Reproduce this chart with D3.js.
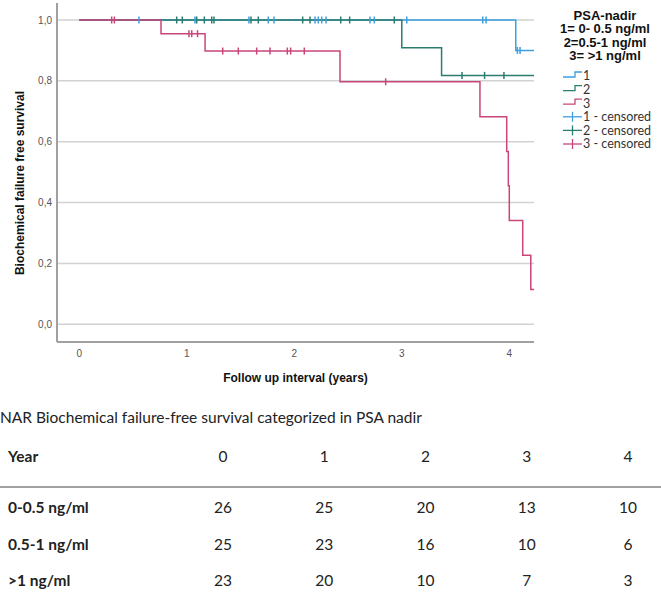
<!DOCTYPE html>
<html>
<head>
<meta charset="utf-8">
<script src="https://cdn.jsdelivr.net/npm/d3@7"></script>
<style>
  body { margin: 0; background: #fff; }
  svg { display: block; }
</style>
</head>
<body>
<div id="chart"></div>
<script>
// Kaplan-Meier steps per PSA-nadir group (time in years, survival)
const time1 = [0, 4.06];
const surv1 = [1.0, 0.90];
const cens1 = [0.555, 1.076, 1.578, 1.758, 1.811, 2.193, 2.223, 2.255, 2.295, 2.704, 2.744, 3.046, 3.753, 3.784, 4.075, 4.10];

const time2 = [0, 3.0, 3.37];
const surv2 = [1.0, 0.909, 0.818];
const cens2 = [0.906, 0.958, 1.092, 1.163, 1.232, 1.253, 1.597, 1.665, 2.078, 2.146, 2.432, 2.515, 2.93, 3.56, 3.77, 3.95];

const time3 = [0, 0.76, 1.17, 2.425, 3.727, 3.976, 3.991, 4.0, 4.125, 4.2];
const surv3 = [1.0, 0.955, 0.898, 0.797, 0.682, 0.568, 0.455, 0.341, 0.227, 0.114];
const cens3 = [0.301, 0.326, 1.02, 1.046, 1.10, 1.334, 1.479, 1.65, 1.774, 1.935, 1.966, 2.093, 2.85];

const followEnd = 4.23;
const yTicks = [0, 0.2, 0.4, 0.6, 0.8, 1.0];
const xTicks = [0, 1, 2, 3, 4];

const legendTitle = ["PSA-nadir", "1= 0- 0.5 ng/ml", "2=0.5-1 ng/ml", "3= >1 ng/ml"];
const legendLabels = ["1", "2", "3", "1 - censored", "2 - censored", "3 - censored"];

// number at risk table
const narCaption = "NAR Biochemical failure-free survival categorized in PSA nadir";
const narYears = [0, 1, 2, 3, 4];
const narGroups = ["0-0.5 ng/ml", "0.5-1 ng/ml", ">1 ng/ml"];
const nar1 = [26, 25, 20, 13, 10];
const nar2 = [25, 23, 16, 10, 6];
const nar3 = [23, 20, 10, 7, 3];

const colors = ["#3d9fe0", "#2b7d70", "#c9467b"];

const width = 661, height = 597;
const svg = d3.select("#chart").append("svg")
  .attr("width", width)
  .attr("height", height);

const x = d3.scaleLinear().domain([0, 4]).range([79.3, 509.3]);
const y = d3.scaleLinear().domain([0, 1]).range([324.3, 20]);
const axisLeftX = 57, axisBottomY = 342, plotRight = x(followEnd);

// grid lines
svg.append("g")
  .selectAll("line")
  .data(yTicks)
  .join("line")
  .attr("x1", axisLeftX).attr("x2", plotRight)
  .attr("y1", d => y(d)).attr("y2", d => y(d))
  .attr("stroke", "#d2d2d2")
  .attr("stroke-width", 1.5);

// axes lines
svg.append("line")
  .attr("x1", axisLeftX).attr("x2", axisLeftX)
  .attr("y1", 3).attr("y2", axisBottomY)
  .attr("stroke", "#a0a0a0").attr("stroke-width", 2);
svg.append("line")
  .attr("x1", axisLeftX).attr("x2", plotRight)
  .attr("y1", axisBottomY).attr("y2", axisBottomY)
  .attr("stroke", "#a0a0a0").attr("stroke-width", 2);

// tick labels
svg.append("g")
  .selectAll("text")
  .data(yTicks)
  .join("text")
  .attr("x", 52)
  .attr("y", d => y(d))
  .attr("dy", "0.35em")
  .attr("text-anchor", "end")
  .style("font", "10px 'Liberation Sans', Arial, sans-serif")
  .style("fill", "#555")
  .text(d => d3.format(".1f")(d).replace(".", ","));

svg.append("g")
  .selectAll("text")
  .data(xTicks)
  .join("text")
  .attr("x", d => x(d))
  .attr("y", 353)
  .attr("dy", "0.35em")
  .attr("text-anchor", "middle")
  .style("font", "10px 'Liberation Sans', Arial, sans-serif")
  .style("fill", "#555")
  .text(d => d);

// axis titles
svg.append("text")
  .attr("transform", `translate(24,183) rotate(-90)`)
  .attr("text-anchor", "middle")
  .style("font", "bold 12px 'Liberation Sans', Arial, sans-serif")
  .style("fill", "#111")
  .text("Biochemical failure free survival");

svg.append("text")
  .attr("x", (axisLeftX + plotRight) / 2)
  .attr("y", 378)
  .attr("dy", "0.35em")
  .attr("text-anchor", "middle")
  .style("font", "bold 12px 'Liberation Sans', Arial, sans-serif")
  .style("fill", "#111")
  .text("Follow up interval (years)");

// survival curves
const groups = [
  { time: time1, surv: surv1, cens: cens1 },
  { time: time2, surv: surv2, cens: cens2 },
  { time: time3, surv: surv3, cens: cens3 },
];

const survAt = (g, t) => {
  let s = g.surv[0];
  g.time.forEach((tt, i) => { if (tt <= t) s = g.surv[i]; });
  return s;
};

const line = d3.line().curve(d3.curveStepAfter).x(d => x(d[0])).y(d => y(d[1]));

groups.forEach((g, gi) => {
  const pts = g.time.map((t, i) => [t, g.surv[i]]);
  pts.push([followEnd, g.surv[g.surv.length - 1]]);
  svg.append("path")
    .datum(pts)
    .attr("d", line)
    .attr("fill", "none")
    .attr("stroke", colors[gi])
    .attr("stroke-width", 1.5);
});

// censor marks drawn after all curves
groups.forEach((g, gi) => {
  svg.append("g")
    .selectAll("line")
    .data(g.cens)
    .join("line")
    .attr("x1", d => x(d)).attr("x2", d => x(d))
    .attr("y1", d => y(survAt(g, d)) - 3.5)
    .attr("y2", d => y(survAt(g, d)) + 3.5)
    .attr("stroke", colors[gi])
    .attr("stroke-width", 1.5);
});

// legend
const legend = svg.append("g");
legendTitle.forEach((t, i) => {
  legend.append("text")
    .attr("x", 605)
    .attr("y", 15 + i * 13.6)
    .attr("dy", "0.35em")
    .attr("text-anchor", "middle")
    .style("font", "bold 13px 'Liberation Sans', Arial, sans-serif")
    .style("fill", "#111")
    .text(t);
});

legendLabels.forEach((lab, i) => {
  const cy = 76 + i * 13.6;
  const c = colors[i % 3];
  if (i < 3) {
    legend.append("path")
      .attr("d", `M563,${cy + 1}H575V${cy - 4}H582`)
      .attr("fill", "none")
      .attr("stroke", c)
      .attr("stroke-width", 1.3);
  } else {
    legend.append("line")
      .attr("x1", 563).attr("x2", 582).attr("y1", cy).attr("y2", cy)
      .attr("stroke", c).attr("stroke-width", 1.3);
    legend.append("line")
      .attr("x1", 572.5).attr("x2", 572.5).attr("y1", cy - 5).attr("y2", cy + 5)
      .attr("stroke", c).attr("stroke-width", 1.3);
  }
  legend.append("text")
    .attr("x", 583)
    .attr("y", cy)
    .attr("dy", "0.35em")
    .style("font", "12.5px Lato, 'Open Sans', sans-serif")
    .style("fill", "#333")
    .text(lab);
});

// number-at-risk table
const tableFont = "Lato, 'Open Sans', sans-serif";
const colX = d3.scalePoint().domain(narYears).range([223, 628]);

svg.append("text")
  .attr("x", 0)
  .attr("y", 418)
  .attr("dy", "0.35em")
  .style("font", `15.5px ${tableFont}`)
  .style("fill", "#222")
  .text(narCaption);

svg.append("text")
  .attr("x", 8).attr("y", 457).attr("dy", "0.35em")
  .style("font", `bold 15.5px ${tableFont}`)
  .style("fill", "#222")
  .text("Year");

svg.append("g")
  .selectAll("text")
  .data(narYears)
  .join("text")
  .attr("x", d => colX(d)).attr("y", 457).attr("dy", "0.35em")
  .attr("text-anchor", "middle")
  .style("font", `15.5px ${tableFont}`)
  .style("fill", "#222")
  .text(d => d);

svg.append("line")
  .attr("x1", 0).attr("x2", width)
  .attr("y1", 487).attr("y2", 487)
  .attr("stroke", "#444").attr("stroke-width", 1);

const narRows = [nar1, nar2, nar3];
const rowY = [508, 545, 581];
narRows.forEach((row, ri) => {
  svg.append("text")
    .attr("x", 8).attr("y", rowY[ri]).attr("dy", "0.35em")
    .style("font", `bold 15.5px ${tableFont}`)
    .style("fill", "#222")
    .text(narGroups[ri]);
  svg.append("g")
    .selectAll("text")
    .data(row)
    .join("text")
    .attr("x", (d, i) => colX(narYears[i])).attr("y", rowY[ri]).attr("dy", "0.35em")
    .attr("text-anchor", "middle")
    .style("font", `15.5px ${tableFont}`)
    .style("fill", "#222")
    .text(d => d);
});
</script>
</body>
</html>
